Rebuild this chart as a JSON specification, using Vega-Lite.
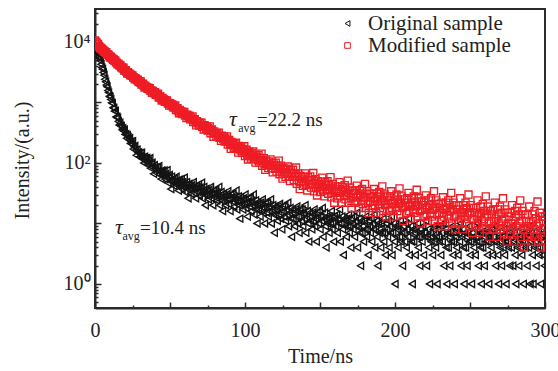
{"$schema":"https://vega.github.io/schema/vega-lite/v6.json","width":450,"height":299,"autosize":{"type":"none"},"padding":{"left":95,"top":9,"right":13,"bottom":63},
"config":{"font":"Liberation Serif","view":{"stroke":"#2b2b2b","strokeWidth":2},"axis":{"grid":false,"domainColor":"#2b2b2b","domainWidth":2,"tickColor":"#2b2b2b","tickWidth":1.5,"labelFont":"Liberation Serif","labelFontSize":20,"labelColor":"#222","titleFont":"Liberation Serif","titleFontSize":20,"titleFontWeight":"normal","titleColor":"#222","labelFlush":false,"labelOverlap":false}},
"layer":[
{"data":{"values":[
{"t":0,"o":7110,"m":10540},{"t":0.5,"o":6767,"m":9947},{"t":1,"o":6754,"m":9816},{"t":1.5,"o":6441,"m":9308},{"t":2,"o":6373,"m":9175},{"t":2.5,"o":5642,"m":8547},{"t":3,"o":5316,"m":8315},{"t":3.5,"o":4876,"m":7864},{"t":4,"o":4264,"m":7948},{"t":4.5,"o":3763,"m":7663},
{"t":5,"o":3546,"m":7353},{"t":5.5,"o":3131,"m":7356},{"t":6,"o":2817,"m":6931},{"t":6.5,"o":2415,"m":6928},{"t":7,"o":2191,"m":6677},{"t":7.5,"o":1940,"m":6742},{"t":8,"o":1819,"m":6214},{"t":8.5,"o":1569,"m":6220},{"t":9,"o":1454,"m":6152},{"t":9.5,"o":1261,"m":5840},
{"t":10,"o":1234,"m":5543},{"t":10.5,"o":1115,"m":5673},{"t":11,"o":986,"m":5423},{"t":11.5,"o":965,"m":5341},{"t":12,"o":821,"m":5064},{"t":12.5,"o":803,"m":5116},{"t":13,"o":717,"m":4886},{"t":13.5,"o":722,"m":4921},{"t":14,"o":575,"m":4589},{"t":14.5,"o":575,"m":4541},
{"t":15,"o":555,"m":4268},{"t":15.5,"o":488,"m":4381},{"t":16,"o":422,"m":4223},{"t":16.5,"o":461,"m":4042},{"t":17,"o":413,"m":4074},{"t":17.5,"o":404,"m":3790},{"t":18,"o":352,"m":3817},{"t":18.5,"o":374,"m":3645},{"t":19,"o":336,"m":3736},{"t":19.5,"o":355,"m":3375},
{"t":20,"o":296,"m":3407},{"t":20.5,"o":299,"m":3393},{"t":21,"o":255,"m":3199},{"t":21.5,"o":288,"m":3009},{"t":22,"o":267,"m":3145},{"t":22.5,"o":241,"m":2999},{"t":23,"o":257,"m":2976},{"t":23.5,"o":211,"m":2806},{"t":24,"o":225,"m":2880},{"t":24.5,"o":204,"m":2743},
{"t":25,"o":229,"m":2802},{"t":25.5,"o":170,"m":2583},{"t":26,"o":185,"m":2580},{"t":26.5,"o":190,"m":2404},{"t":27,"o":162,"m":2519},{"t":27.5,"o":134,"m":2429},{"t":28,"o":166,"m":2321},{"t":28.5,"o":147,"m":2374},{"t":29,"o":149,"m":2184},{"t":29.5,"o":126,"m":2230},
{"t":30,"o":145,"m":2137},{"t":30.5,"o":129,"m":2222},{"t":31,"o":147,"m":1971},{"t":31.5,"o":116,"m":2022},{"t":32,"o":123,"m":2030},{"t":32.5,"o":100,"m":1897},{"t":33,"o":127,"m":1770},{"t":33.5,"o":118,"m":1891},{"t":34,"o":105,"m":1793},{"t":34.5,"o":121,"m":1792},
{"t":35,"o":95,"m":1674},{"t":35.5,"o":109,"m":1748},{"t":36,"o":99,"m":1655},{"t":36.5,"o":120,"m":1715},{"t":37,"o":82,"m":1561},{"t":37.5,"o":95,"m":1571},{"t":38,"o":101,"m":1447},{"t":38.5,"o":84,"m":1550},{"t":39,"o":66,"m":1492},{"t":39.5,"o":92,"m":1419},
{"t":40,"o":80,"m":1472},{"t":40.5,"o":84,"m":1335},{"t":41,"o":68,"m":1384},{"t":41.5,"o":85,"m":1322},{"t":42,"o":73,"m":1399},{"t":42.5,"o":88,"m":1208},{"t":43,"o":65,"m":1256},{"t":43.5,"o":71,"m":1269},{"t":44,"o":54,"m":1172},{"t":44.5,"o":75,"m":1076},
{"t":45,"o":70,"m":1180},{"t":45.5,"o":61,"m":1110},{"t":46,"o":75,"m":1114},{"t":46.5,"o":54,"m":1028},{"t":47,"o":66,"m":1092},{"t":47.5,"o":59,"m":1026},{"t":48,"o":76,"m":1080},{"t":48.5,"o":47,"m":962},{"t":49,"o":58,"m":977},{"t":49.5,"o":63,"m":885},
{"t":50,"o":50,"m":971},{"t":50.5,"o":37,"m":932},{"t":51,"o":59,"m":881},{"t":51.5,"o":50,"m":929},{"t":52,"o":53,"m":827},{"t":52.5,"o":42,"m":870},{"t":53,"o":56,"m":825},{"t":53.5,"o":47,"m":892},{"t":54,"o":59,"m":748},{"t":54.5,"o":43,"m":790},
{"t":55,"o":48,"m":805},{"t":55.5,"o":35,"m":733},{"t":56,"o":53,"m":663},{"t":56.5,"o":48,"m":749},{"t":57,"o":42,"m":698},{"t":57.5,"o":54,"m":706},{"t":58,"o":37,"m":642},{"t":58.5,"o":48,"m":698},{"t":59,"o":42,"m":649},{"t":59.5,"o":57,"m":696},
{"t":60,"o":33,"m":607},{"t":60.5,"o":43,"m":623},{"t":61,"o":48,"m":553},{"t":61.5,"o":37,"m":627},{"t":62,"o":26,"m":599},{"t":62.5,"o":45,"m":563},{"t":63,"o":38,"m":605},{"t":63.5,"o":41,"m":526},{"t":64,"o":31,"m":564},{"t":64.5,"o":43,"m":532},
{"t":65,"o":37,"m":588},{"t":65.5,"o":48,"m":475},{"t":66,"o":32,"m":512},{"t":66.5,"o":38,"m":528},{"t":67,"o":26,"m":473},{"t":67.5,"o":42,"m":419},{"t":68,"o":39,"m":491},{"t":68.5,"o":33,"m":453},{"t":69,"o":44,"m":462},{"t":69.5,"o":29,"m":413},
{"t":70,"o":39,"m":460},{"t":70.5,"o":34,"m":423},{"t":71,"o":47,"m":464},{"t":71.5,"o":26,"m":395},{"t":72,"o":35,"m":411},{"t":72.5,"o":40,"m":357},{"t":73,"o":30,"m":419},{"t":73.5,"o":20,"m":398},{"t":74,"o":37,"m":369},{"t":74.5,"o":30,"m":406},
{"t":75,"o":34,"m":343},{"t":75.5,"o":25,"m":377},{"t":76,"o":36,"m":352},{"t":76.5,"o":30,"m":401},{"t":77,"o":40,"m":310},{"t":77.5,"o":26,"m":342},{"t":78,"o":31,"m":356},{"t":78.5,"o":20,"m":313},{"t":79,"o":35,"m":271},{"t":79.5,"o":31,"m":331},
{"t":80,"o":27,"m":302},{"t":80.5,"o":36,"m":310},{"t":81,"o":24,"m":272},{"t":81.5,"o":32,"m":312},{"t":82,"o":28,"m":283},{"t":82.5,"o":40,"m":317},{"t":83,"o":20,"m":261},{"t":83.5,"o":29,"m":273},{"t":84,"o":33,"m":232},{"t":84.5,"o":24,"m":283},
{"t":85,"o":16,"m":267},{"t":85.5,"o":31,"m":245},{"t":86,"o":25,"m":275},{"t":86.5,"o":28,"m":226},{"t":87,"o":20,"m":253},{"t":87.5,"o":30,"m":235},{"t":88,"o":25,"m":274},{"t":88.5,"o":34,"m":201},{"t":89,"o":21,"m":228},{"t":89.5,"o":25,"m":239},
{"t":90,"o":16,"m":205},{"t":90.5,"o":30,"m":171},{"t":91,"o":27,"m":222},{"t":91.5,"o":23,"m":198},{"t":92,"o":31,"m":207},{"t":92.5,"o":19,"m":176},{"t":93,"o":27,"m":209},{"t":93.5,"o":24,"m":186},{"t":94,"o":35,"m":215},{"t":94.5,"o":17,"m":171},
{"t":95,"o":24,"m":183},{"t":95.5,"o":28,"m":148},{"t":96,"o":20,"m":190},{"t":96.5,"o":12,"m":178},{"t":97,"o":27,"m":161},{"t":97.5,"o":21,"m":187},{"t":98,"o":24,"m":147},{"t":98.5,"o":17,"m":170},{"t":99,"o":26,"m":156},{"t":99.5,"o":21,"m":188},
{"t":100,"o":30,"m":130},{"t":100.5,"o":18,"m":153},{"t":101,"o":22,"m":165},{"t":101.5,"o":13,"m":137},{"t":102,"o":26,"m":114},{"t":102.5,"o":23,"m":153},{"t":103,"o":19,"m":134},{"t":103.5,"o":27,"m":141},{"t":104,"o":16,"m":118},{"t":104.5,"o":23,"m":145},
{"t":105,"o":20,"m":127},{"t":105.5,"o":30,"m":154},{"t":106,"o":14,"m":116},{"t":106.5,"o":21,"m":125},{"t":107,"o":24,"m":101},{"t":107.5,"o":17,"m":136},{"t":108,"o":10,"m":125},{"t":108.5,"o":22,"m":111},{"t":109,"o":17,"m":134},{"t":109.5,"o":20,"m":101},
{"t":110,"o":13,"m":121},{"t":110.5,"o":22,"m":109},{"t":111,"o":17,"m":142},{"t":111.5,"o":25,"m":90},{"t":112,"o":15,"m":109},{"t":112.5,"o":18,"m":120},{"t":113,"o":10,"m":96},{"t":113.5,"o":22,"m":77},{"t":114,"o":19,"m":110},{"t":114.5,"o":15,"m":95},
{"t":115,"o":22,"m":102},{"t":115.5,"o":13,"m":82},{"t":116,"o":19,"m":106},{"t":116.5,"o":16,"m":91},{"t":117,"o":25,"m":114},{"t":117.5,"o":10,"m":82},{"t":118,"o":17,"m":91},{"t":118.5,"o":20,"m":70},{"t":119,"o":14,"m":99},{"t":119.5,"o":7,"m":91},
{"t":120,"o":19,"m":80},{"t":120.5,"o":14,"m":101},{"t":121,"o":17,"m":72},{"t":121.5,"o":11,"m":90},{"t":122,"o":19,"m":80},{"t":122.5,"o":14,"m":109},{"t":123,"o":21,"m":65},{"t":123.5,"o":12,"m":80},{"t":124,"o":15,"m":90},{"t":124.5,"o":8,"m":70},
{"t":125,"o":19,"m":55},{"t":125.5,"o":16,"m":83},{"t":126,"o":13,"m":70},{"t":126.5,"o":20,"m":76},{"t":127,"o":11,"m":59},{"t":127.5,"o":17,"m":80},{"t":128,"o":14,"m":67},{"t":128.5,"o":22,"m":87},{"t":129,"o":9,"m":60},{"t":129.5,"o":15,"m":68},
{"t":130,"o":18,"m":50},{"t":130.5,"o":12,"m":76},{"t":131,"o":6,"m":68},{"t":131.5,"o":17,"m":59},{"t":132,"o":12,"m":77},{"t":132.5,"o":15,"m":52},{"t":133,"o":9,"m":67},{"t":133.5,"o":17,"m":59},{"t":134,"o":13,"m":84},{"t":134.5,"o":19,"m":45},
{"t":135,"o":10,"m":59},{"t":135.5,"o":13,"m":67},{"t":136,"o":7,"m":50},{"t":136.5,"o":17,"m":37},{"t":137,"o":15,"m":61},{"t":137.5,"o":11,"m":50},{"t":138,"o":17,"m":55},{"t":138.5,"o":9,"m":42},{"t":139,"o":15,"m":59},{"t":139.5,"o":12,"m":49},
{"t":140,"o":20,"m":67},{"t":140.5,"o":7,"m":43},{"t":141,"o":13,"m":50},{"t":141.5,"o":16,"m":35},{"t":142,"o":10,"m":58},{"t":142.5,"o":5,"m":52},{"t":143,"o":15,"m":44},{"t":143.5,"o":11,"m":60},{"t":144,"o":13,"m":39},{"t":144.5,"o":8,"m":52},
{"t":145,"o":15,"m":45},{"t":145.5,"o":11,"m":68},{"t":146,"o":17,"m":34},{"t":146.5,"o":9,"m":46},{"t":147,"o":12,"m":54},{"t":147.5,"o":5,"m":39},{"t":148,"o":15,"m":29},{"t":148.5,"o":13,"m":50},{"t":149,"o":10,"m":40},{"t":149.5,"o":16,"m":45},
{"t":150,"o":8,"m":33},{"t":150.5,"o":13,"m":49},{"t":151,"o":11,"m":40},{"t":151.5,"o":18,"m":57},{"t":152,"o":6,"m":35},{"t":152.5,"o":12,"m":41},{"t":153,"o":15,"m":28},{"t":153.5,"o":9,"m":48},{"t":154,"o":4,"m":43},{"t":154.5,"o":13,"m":36},
{"t":155,"o":10,"m":50},{"t":155.5,"o":12,"m":31},{"t":156,"o":7,"m":43},{"t":156.5,"o":13,"m":37},{"t":157,"o":10,"m":58},{"t":157.5,"o":16,"m":27},{"t":158,"o":8,"m":38},{"t":158.5,"o":10,"m":45},{"t":159,"o":5,"m":32},{"t":159.5,"o":13,"m":22},
{"t":160,"o":12,"m":41},{"t":160.5,"o":9,"m":33},{"t":161,"o":14,"m":37},{"t":161.5,"o":7,"m":26},{"t":162,"o":12,"m":41},{"t":162.5,"o":10,"m":32},{"t":163,"o":17,"m":48},{"t":163.5,"o":5,"m":28},{"t":164,"o":10,"m":34},{"t":164.5,"o":13,"m":22},
{"t":165,"o":8,"m":40},{"t":165.5,"o":3,"m":36},{"t":166,"o":12,"m":29},{"t":166.5,"o":9,"m":43},{"t":167,"o":11,"m":25},{"t":167.5,"o":6,"m":36},{"t":168,"o":12,"m":30},{"t":168.5,"o":9,"m":51},{"t":169,"o":14,"m":22},{"t":169.5,"o":7,"m":32},
{"t":170,"o":9,"m":39},{"t":170.5,"o":4,"m":26},{"t":171,"o":12,"m":18},{"t":171.5,"o":10,"m":35},{"t":172,"o":8,"m":27},{"t":172.5,"o":13,"m":31},{"t":173,"o":6,"m":22},{"t":173.5,"o":11,"m":35},{"t":174,"o":9,"m":27},{"t":174.5,"o":15,"m":42},
{"t":175,"o":4,"m":23},{"t":175.5,"o":9,"m":29},{"t":176,"o":12,"m":18},{"t":176.5,"o":7,"m":35},{"t":177,"o":2,"m":30},{"t":177.5,"o":11,"m":24},{"t":178,"o":7,"m":37},{"t":178.5,"o":9,"m":21},{"t":179,"o":5,"m":31},{"t":179.5,"o":11,"m":26},
{"t":180,"o":8,"m":45},{"t":180.5,"o":13,"m":18},{"t":181,"o":6,"m":27},{"t":181.5,"o":8,"m":34},{"t":182,"o":3,"m":22},{"t":182.5,"o":11,"m":15},{"t":183,"o":9,"m":31},{"t":183.5,"o":7,"m":23},{"t":184,"o":12,"m":27},{"t":184.5,"o":5,"m":18},
{"t":185,"o":10,"m":31},{"t":185.5,"o":8,"m":23},{"t":186,"o":14,"m":37},{"t":186.5,"o":4,"m":20},{"t":187,"o":8,"m":25},{"t":187.5,"o":11,"m":15},{"t":188,"o":6,"m":31},{"t":188.5,"o":2,"m":27},{"t":189,"o":10,"m":21},{"t":189.5,"o":7,"m":33},
{"t":190,"o":8,"m":18},{"t":190.5,"o":4,"m":28},{"t":191,"o":10,"m":23},{"t":191.5,"o":7,"m":41},{"t":192,"o":12,"m":16},{"t":192.5,"o":5,"m":24},{"t":193,"o":7,"m":30},{"t":193.5,"o":3,"m":20},{"t":194,"o":10,"m":13},{"t":194.5,"o":8,"m":28},
{"t":195,"o":6,"m":21},{"t":195.5,"o":11,"m":24},{"t":196,"o":4,"m":16},{"t":196.5,"o":9,"m":28},{"t":197,"o":7,"m":21},{"t":197.5,"o":13,"m":34},{"t":198,"o":3,"m":18},{"t":198.5,"o":7,"m":22},{"t":199,"o":10,"m":13},{"t":199.5,"o":5,"m":28},
{"t":200,"o":1,"m":24},{"t":200.5,"o":9,"m":19},{"t":201,"o":6,"m":30},{"t":201.5,"o":8,"m":16},{"t":202,"o":4,"m":25},{"t":202.5,"o":9,"m":21},{"t":203,"o":6,"m":38},{"t":203.5,"o":11,"m":14},{"t":204,"o":5,"m":22},{"t":204.5,"o":7,"m":28},
{"t":205,"o":2,"m":18},{"t":205.5,"o":9,"m":11},{"t":206,"o":7,"m":25},{"t":206.5,"o":5,"m":19},{"t":207,"o":10,"m":22},{"t":207.5,"o":4,"m":15},{"t":208,"o":8,"m":26},{"t":208.5,"o":6,"m":19},{"t":209,"o":12,"m":32},{"t":209.5,"o":3,"m":16},
{"t":210,"o":7,"m":20},{"t":210.5,"o":9,"m":12},{"t":211,"o":5,"m":26},{"t":211.5,"o":1,"m":22},{"t":212,"o":8,"m":17},{"t":212.5,"o":5,"m":28},{"t":213,"o":7,"m":15},{"t":213.5,"o":3,"m":23},{"t":214,"o":8,"m":19},{"t":214.5,"o":6,"m":36},
{"t":215,"o":10,"m":13},{"t":215.5,"o":4,"m":20},{"t":216,"o":6,"m":26},{"t":216.5,"o":2,"m":16},{"t":217,"o":8,"m":10},{"t":217.5,"o":7,"m":23},{"t":218,"o":5,"m":17},{"t":218.5,"o":9,"m":20},{"t":219,"o":3,"m":13},{"t":219.5,"o":7,"m":24},
{"t":220,"o":6,"m":17},{"t":220.5,"o":11,"m":29},{"t":221,"o":2,"m":14},{"t":221.5,"o":6,"m":18},{"t":222,"o":8,"m":11},{"t":222.5,"o":4,"m":24},{"t":223,"o":1,"m":20},{"t":223.5,"o":7,"m":15},{"t":224,"o":5,"m":26},{"t":224.5,"o":6,"m":13},
{"t":225,"o":3,"m":21},{"t":225.5,"o":8,"m":17},{"t":226,"o":5,"m":34},{"t":226.5,"o":9,"m":11},{"t":227,"o":4,"m":18},{"t":227.5,"o":6,"m":24},{"t":228,"o":1,"m":14},{"t":228.5,"o":8,"m":9},{"t":229,"o":6,"m":21},{"t":229.5,"o":5,"m":15},
{"t":230,"o":9,"m":18},{"t":230.5,"o":3,"m":11},{"t":231,"o":7,"m":22},{"t":231.5,"o":5,"m":15},{"t":232,"o":10,"m":27},{"t":232.5,"o":2,"m":13},{"t":233,"o":6,"m":17},{"t":233.5,"o":8,"m":9},{"t":234,"o":4,"m":22},{"t":234.5,"o":1,"m":18},
{"t":235,"o":7,"m":14},{"t":235.5,"o":4,"m":24},{"t":236,"o":6,"m":12},{"t":236.5,"o":2,"m":20},{"t":237,"o":7,"m":16},{"t":237.5,"o":5,"m":32},{"t":238,"o":9,"m":10},{"t":238.5,"o":3,"m":17},{"t":239,"o":5,"m":22},{"t":239.5,"o":1,"m":13},
{"t":240,"o":7,"m":8},{"t":240.5,"o":6,"m":20},{"t":241,"o":4,"m":14},{"t":241.5,"o":8,"m":17},{"t":242,"o":3,"m":10},{"t":242.5,"o":7,"m":20},{"t":243,"o":5,"m":14},{"t":243.5,"o":10,"m":26},{"t":244,"o":2,"m":12},{"t":244.5,"o":6,"m":15},
{"t":245,"o":8,"m":8},{"t":245.5,"o":4,"m":20},{"t":246,"o":1,"m":17},{"t":246.5,"o":7,"m":13},{"t":247,"o":4,"m":22},{"t":247.5,"o":6,"m":10},{"t":248,"o":2,"m":18},{"t":248.5,"o":7,"m":14},{"t":249,"o":5,"m":30},{"t":249.5,"o":9,"m":9},
{"t":250,"o":3,"m":15},{"t":250.5,"o":5,"m":20},{"t":251,"o":1,"m":12},{"t":251.5,"o":7,"m":7},{"t":252,"o":6,"m":18},{"t":252.5,"o":4,"m":12},{"t":253,"o":8,"m":15},{"t":253.5,"o":3,"m":9},{"t":254,"o":6,"m":18},{"t":254.5,"o":5,"m":13},
{"t":255,"o":10,"m":24},{"t":255.5,"o":2,"m":10},{"t":256,"o":5,"m":14},{"t":256.5,"o":7,"m":7},{"t":257,"o":4,"m":19},{"t":257.5,"o":1,"m":15},{"t":258,"o":7,"m":11},{"t":258.5,"o":4,"m":21},{"t":259,"o":6,"m":9},{"t":259.5,"o":2,"m":16},
{"t":260,"o":7,"m":13},{"t":260.5,"o":5,"m":28},{"t":261,"o":8,"m":8},{"t":261.5,"o":3,"m":14},{"t":262,"o":5,"m":19},{"t":262.5,"o":1,"m":10},{"t":263,"o":7,"m":6},{"t":263.5,"o":6,"m":16},{"t":264,"o":4,"m":11},{"t":264.5,"o":8,"m":14},
{"t":265,"o":3,"m":8},{"t":265.5,"o":6,"m":17},{"t":266,"o":5,"m":11},{"t":266.5,"o":9,"m":22},{"t":267,"o":2,"m":9},{"t":267.5,"o":5,"m":12},{"t":268,"o":7,"m":6},{"t":268.5,"o":3,"m":17},{"t":269,"o":1,"m":14},{"t":269.5,"o":6,"m":10},
{"t":270,"o":4,"m":19},{"t":270.5,"o":5,"m":8},{"t":271,"o":2,"m":15},{"t":271.5,"o":6,"m":11},{"t":272,"o":4,"m":26},{"t":272.5,"o":8,"m":7},{"t":273,"o":3,"m":12},{"t":273.5,"o":5,"m":17},{"t":274,"o":1,"m":9},{"t":274.5,"o":7,"m":5},
{"t":275,"o":5,"m":15},{"t":275.5,"o":4,"m":10},{"t":276,"o":7,"m":13},{"t":276.5,"o":2,"m":7},{"t":277,"o":6,"m":15},{"t":277.5,"o":4,"m":10},{"t":278,"o":9,"m":20},{"t":278.5,"o":2,"m":8},{"t":279,"o":5,"m":11},{"t":279.5,"o":7,"m":5},
{"t":280,"o":3,"m":16},{"t":280.5,"o":1,"m":13},{"t":281,"o":6,"m":9},{"t":281.5,"o":4,"m":18},{"t":282,"o":5,"m":7},{"t":282.5,"o":2,"m":14},{"t":283,"o":6,"m":10},{"t":283.5,"o":4,"m":24},{"t":284,"o":8,"m":6},{"t":284.5,"o":3,"m":11},
{"t":285,"o":5,"m":16},{"t":285.5,"o":1,"m":8},{"t":286,"o":7,"m":4},{"t":286.5,"o":5,"m":14},{"t":287,"o":4,"m":9},{"t":287.5,"o":7,"m":11},{"t":288,"o":2,"m":6},{"t":288.5,"o":6,"m":14},{"t":289,"o":4,"m":9},{"t":289.5,"o":9,"m":19},
{"t":290,"o":1,"m":7},{"t":290.5,"o":5,"m":10},{"t":291,"o":7,"m":5},{"t":291.5,"o":3,"m":14},{"t":292,"o":1,"m":11},{"t":292.5,"o":6,"m":8},{"t":293,"o":4,"m":16},{"t":293.5,"o":5,"m":6},{"t":294,"o":2,"m":12},{"t":294.5,"o":6,"m":9},
{"t":295,"o":4,"m":23},{"t":295.5,"o":8,"m":5},{"t":296,"o":3,"m":10},{"t":296.5,"o":4,"m":15},{"t":297,"o":1,"m":7},{"t":297.5,"o":6,"m":4},{"t":298,"o":5,"m":13},{"t":298.5,"o":3,"m":8},{"t":299,"o":7,"m":11},{"t":299.5,"o":2,"m":6},
{"t":300,"o":6,"m":13}]},
"transform":[{"fold":["o","m"],"as":["s","v"]}],
"mark":{"type":"point","filled":false,"size":50,"strokeWidth":1.35,"opacity":1,"clip":true},
"encoding":{
"x":{"field":"t","type":"quantitative","scale":{"domain":[0,300],"nice":false,"zero":false},"axis":{"orient":"bottom","values":[0,50,100,150,200,250,300],"labelExpr":"datum.value % 100 === 0 ? datum.label : ''","tickSize":-6,"labelPadding":18,"title":"Time/ns","titleX":225,"titleY":54,"titleAlign":"center","titleBaseline":"alphabetic"}},
"y":{"field":"v","type":"quantitative","scale":{"type":"log","domain":[0.4,35000],"nice":false},"axis":{"orient":"left","values":[1,10,100,1000,10000],"labelExpr":"datum.value == 1 ? '10⁰' : datum.value == 100 ? '10²' : datum.value == 10000 ? '10⁴' : ''","tickSize":-6,"labelPadding":11,"title":"Intensity/(a.u.)","titleX":-73,"titleY":151,"titleAngle":270,"titleAlign":"center","titleBaseline":"middle"}},
"color":{"field":"s","type":"nominal","scale":{"domain":["o","m"],"range":["#141414","#ee1d25"]},"legend":{"title":null,"orient":"none","legendX":242,"legendY":4,"padding":0,"rowPadding":0,"labelExpr":"datum.value == 'o' ? 'Original sample' : 'Modified sample'","labelFont":"Liberation Serif","labelFontSize":21,"labelColor":"#222","labelOffset":10,"symbolSize":32,"symbolStrokeWidth":1,"symbolOpacity":1}},
"shape":{"field":"s","type":"nominal","scale":{"domain":["o","m"],"range":["triangle-left","square"]}},
"order":{"field":"s","sort":"descending"}}},
{"data":{"values":[{"t":108,"v":409,"label":"=22.2 ns"},{"t":30,"v":6.7,"label":"=10.4 ns"}]},
"mark":{"type":"text","align":"left","baseline":"alphabetic","fontSize":19,"font":"Liberation Serif","color":"#222"},
"encoding":{
"x":{"field":"t","type":"quantitative","axis":{"orient":"bottom","values":[25,75,125,175,225,275],"tickSize":-3,"labels":false,"domain":false,"title":null}},
"y":{"field":"v","type":"quantitative","axis":{"orient":"left","values":[0.5,0.6,0.7,0.8,0.9,2,3,4,5,6,7,8,9,20,30,40,50,60,70,80,90,200,300,400,500,600,700,800,900,2000,3000,4000,5000,6000,7000,8000,9000,20000,30000],"tickSize":-3,"labels":false,"domain":false,"title":null}},
"text":{"field":"label"}}},
{"data":{"values":[{"t":89.3,"v":409,"label":"τ"},{"t":13.3,"v":6.7,"label":"τ"}]},
"mark":{"type":"text","align":"left","baseline":"alphabetic","fontSize":22,"fontStyle":"italic","font":"Liberation Serif","color":"#222"},
"encoding":{"x":{"field":"t","type":"quantitative","axis":null},"y":{"field":"v","type":"quantitative","axis":null},"text":{"field":"label"}}},
{"data":{"values":[{"t":95.5,"v":325,"label":"avg"},{"t":18.3,"v":5.3,"label":"avg"}]},
"mark":{"type":"text","align":"left","baseline":"alphabetic","fontSize":12,"font":"Liberation Serif","color":"#222"},
"encoding":{"x":{"field":"t","type":"quantitative","axis":null},"y":{"field":"v","type":"quantitative","axis":null},"text":{"field":"label"}}}
],
"resolve":{"axis":{"x":"independent","y":"independent"}}}
